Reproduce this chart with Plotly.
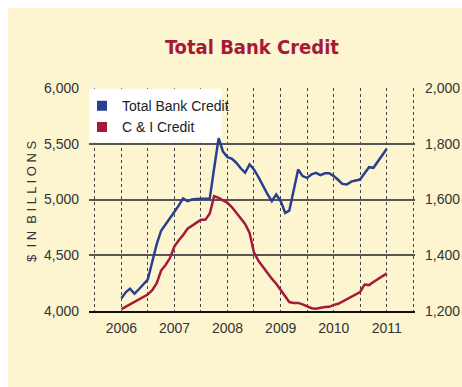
import plotly.graph_objects as go
import pandas as pd

months = pd.date_range("2006-01-01", "2011-01-01", freq="MS").strftime("%Y-%m-%d").tolist()

total_bank_credit = [
    4114, 4170, 4200, 4155, 4195, 4235, 4281, 4440, 4600, 4720,
    4775, 4830, 4890, 4950, 5010, 4985, 5000, 5005, 5005, 5005,
    5010, 5280, 5550, 5430, 5380, 5365, 5330, 5280, 5240, 5314,
    5270, 5200, 5120, 5050, 4985, 5044, 4985, 4880, 4900, 5100,
    5269, 5210, 5194, 5225, 5239, 5218, 5235, 5235, 5210, 5175,
    5140, 5134, 5160, 5170, 5179, 5235, 5290, 5284, 5340, 5400,
    5455,
]

ci_credit = [
    1207, 1216, 1225, 1234, 1242, 1250, 1259, 1275, 1300, 1345,
    1365, 1390, 1432, 1455, 1472, 1495, 1505, 1515, 1527, 1527,
    1550, 1612, 1606, 1597, 1588, 1572, 1553, 1532, 1512, 1480,
    1410, 1380, 1360, 1337, 1316, 1298, 1275, 1250, 1232, 1229,
    1229, 1224, 1218, 1210, 1208, 1212, 1214, 1215, 1222, 1226,
    1234, 1242, 1250, 1258, 1268, 1295, 1293, 1304, 1314, 1325,
    1335,
]

year_ticks = ["2006-01-01", "2007-01-01", "2008-01-01", "2009-01-01", "2010-01-01", "2011-01-01"]
year_labels = ["2006", "2007", "2008", "2009", "2010", "2011"]
left_ticks = [4000, 4500, 5000, 5500, 6000]
right_ticks = [1200, 1400, 1600, 1800, 2000]

BLUE = "#2a3f8f"
RED = "#a5193b"
CREAM = "#fdf5cf"
FONT = "DejaVu Sans Condensed, Liberation Sans, sans-serif"
TICKFONT = "Liberation Sans, Arial, sans-serif"

fig = go.Figure()

fig.add_trace(go.Scatter(x=months, y=total_bank_credit, mode="lines",
                         line=dict(color=BLUE, width=2.5), showlegend=False, yaxis="y"))
fig.add_trace(go.Scatter(x=months, y=ci_credit, mode="lines",
                         line=dict(color=RED, width=2.5), showlegend=False, yaxis="y2"))
# legend swatches
fig.add_trace(go.Scatter(x=[None], y=[None], mode="markers", name="Total Bank Credit",
                         marker=dict(symbol="square", size=10, color=BLUE)))
fig.add_trace(go.Scatter(x=[None], y=[None], mode="markers", name="C & I Credit",
                         marker=dict(symbol="square", size=10, color=RED)))

W, H = 462, 387
L, R, T, B = 89, 47, 88, 76
pw, ph = W - L - R, H - T - B

fig.update_layout(
    width=W, height=H,
    margin=dict(l=L, r=R, t=T, b=B, pad=0, autoexpand=False),
    paper_bgcolor="white",
    plot_bgcolor="#f4f4f4",
    font=dict(family=TICKFONT, size=13, color="#333333"),
    showlegend=True,
    legend=dict(x=(82 - L) / pw, y=0.99, xanchor="left", yanchor="top",
                bgcolor="rgba(0,0,0,0)", font=dict(family=TICKFONT, size=14, color="#222222"),
                itemwidth=30, tracegroupgap=0),
    xaxis=dict(
        type="date",
        range=["2005-05-23", "2011-07-14"],
        tickvals=year_ticks, ticktext=year_labels,
        showgrid=True, gridcolor="#444444", griddash="dot", gridwidth=1,
        minor=dict(dtick="M6", tick0="2006-01-01", showgrid=True,
                   gridcolor="#444444", griddash="dot", gridwidth=1),
        showline=True, linecolor="#111111", linewidth=1.5,
        ticks="", ticklabelstandoff=3,
        tickfont=dict(size=14, color="#333333"),
        zeroline=False,
    ),
    yaxis=dict(
        range=[4000, 6000], tickvals=left_ticks, tickformat=",",
        showgrid=True, gridcolor="#555555", gridwidth=1.5,
        zeroline=False, showline=False, ticks="",
        ticklabelstandoff=9, tickfont=dict(size=14, color="#333333"),
    ),
    yaxis2=dict(
        range=[1200, 2000], tickvals=right_ticks, tickformat=",",
        overlaying="y", side="right", showgrid=False, zeroline=False,
        showline=False, ticks="", ticklabelstandoff=9,
        tickfont=dict(size=14, color="#333333"),
    ),
    shapes=[
        dict(type="rect", xref="paper", yref="paper",
             x0=(8 - L) / pw, x1=(W - L) / pw + 0.01,
             y0=-(H - T - ph) / ph - 0.01, y1=(ph + T - 8) / ph,
             fillcolor=CREAM, line=dict(width=0), layer="below"),
        dict(type="rect", xref="x", yref="y",
             x0="2005-05-01", x1="2007-11-20", y0=5508, y1=5993,
             fillcolor="white", line=dict(width=0), layer="between"),
    ],
    annotations=[
        dict(text="<b>Total Bank Credit</b>", xref="paper", yref="paper",
             x=(252 - L) / pw, y=(ph + T - 47) / ph, xanchor="center", yanchor="middle",
             showarrow=False, font=dict(family=FONT, size=20, color=RED)),
        dict(text="$  I N  B I L L I O N S", xref="paper", yref="paper",
             x=(31 - L) / pw, y=(311 - 202) / ph, xanchor="center", yanchor="middle",
             textangle=-90, showarrow=False,
             font=dict(family=TICKFONT, size=13, color="#333333")),
    ],
)

fig.write_html("out.html")
